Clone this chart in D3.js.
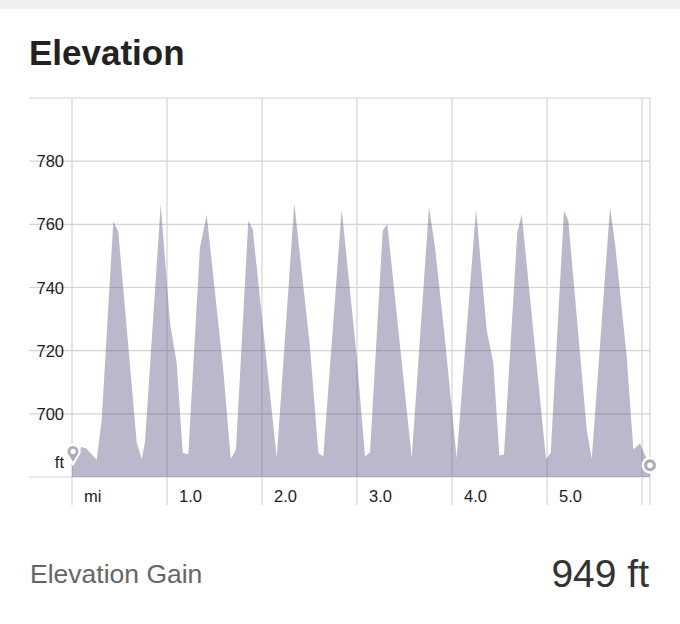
<!DOCTYPE html>
<html>
<head>
<meta charset="utf-8">
<script src="https://cdn.jsdelivr.net/npm/d3@7"></script>
<style>
  html, body { margin: 0; padding: 0; background: #fff; }
  svg { display: block; font-family: "Liberation Sans", Arial, Helvetica, sans-serif; }
</style>
</head>
<body>
<svg id="chart" width="680" height="624"></svg>
<script>
// ---- data ----
const title = "Elevation";
const distanceMi = [0.000, 0.100, 0.150, 0.260, 0.313, 0.435, 0.487, 0.681, 0.734, 0.768, 0.934, 1.032, 1.102, 1.165, 1.224, 1.347, 1.418, 1.589, 1.671, 1.726, 1.856, 1.902, 2.155, 2.340, 2.505, 2.593, 2.645, 2.839, 2.997, 3.084, 3.137, 3.271, 3.319, 3.576, 3.758, 3.821, 3.916, 4.049, 4.253, 4.365, 4.435, 4.498, 4.547, 4.687, 4.734, 4.989, 5.039, 5.179, 5.224, 5.418, 5.471, 5.663, 5.716, 5.839, 5.909, 5.979, 6.021, 6.084];
const elevationFt = [684.6, 689.5, 689.0, 685.5, 698.1, 760.9, 757.7, 690.9, 685.7, 690.9, 766.4, 728.7, 716.1, 687.7, 687.1, 752.7, 763.0, 714.9, 685.7, 688.7, 761.1, 758.5, 686.0, 766.6, 721.2, 687.6, 686.5, 764.8, 718.0, 686.5, 687.8, 758.0, 760.1, 686.0, 765.5, 752.7, 726.5, 686.0, 764.8, 726.5, 716.1, 686.8, 687.1, 757.4, 763.2, 685.7, 687.6, 764.3, 761.1, 695.0, 685.7, 765.3, 753.9, 718.0, 688.7, 690.6, 687.7, 683.7];
const yTicks = [680, 700, 720, 740, 760, 780, 800];
const yTickLabels = ["ft", "700", "720", "740", "760", "780", ""];
const xTicks = [0, 1, 2, 3, 4, 5, 6, 6.084];
const xTickLabels = ["mi", "1.0", "2.0", "3.0", "4.0", "5.0", "", ""];
const gainLabel = "Elevation Gain";
const gainValue = "949 ft";

// ---- layout ----
const svg = d3.select("#chart");
const x = d3.scaleLinear().domain([0, 6.084]).range([72, 650]);
const y = d3.scaleLinear().domain([680, 800]).range([477, 98]);
const data = distanceMi.map((d, i) => ({ d, e: elevationFt[i] }));

// top band
svg.append("rect").attr("x", 0).attr("y", 0).attr("width", 680).attr("height", 9).attr("fill", "#efeff4");

// title
svg.append("text").attr("x", 29).attr("y", 65).attr("font-size", 35).attr("font-weight", 700)
  .attr("fill", "#222").text(title);

// grid
const grid = svg.append("g").attr("stroke", "#d4d4d6").attr("stroke-width", 1.2).attr("fill", "none");
yTicks.forEach(t => {
  grid.append("line").attr("x1", 29).attr("x2", 650).attr("y1", y(t)).attr("y2", y(t));
});
xTicks.forEach(t => {
  grid.append("line").attr("x1", x(t)).attr("x2", x(t)).attr("y1", 98).attr("y2", 505);
});

// area
const area = d3.area().x(p => x(p.d)).y0(y(680)).y1(p => y(p.e)).curve(d3.curveLinear);
svg.append("path").datum(data).attr("d", area).attr("fill", "rgba(78,72,118,0.39)");

// y labels
yTicks.forEach((t, i) => {
  if (!yTickLabels[i]) return;
  const isUnit = yTickLabels[i] === "ft";
  svg.append("text").attr("x", 64).attr("y", isUnit ? 468 : y(t) + 6)
    .attr("text-anchor", "end").attr("font-size", 16.5).attr("fill", "#1c1c1e").text(yTickLabels[i]);
});
// x labels
xTicks.forEach((t, i) => {
  if (!xTickLabels[i]) return;
  svg.append("text").attr("x", x(t) + 12).attr("y", 502)
    .attr("font-size", 16.5).attr("fill", "#1c1c1e").text(xTickLabels[i]);
});

// start pin marker
const s = data[0];
const sx = x(s.d) + 1, sy = y(s.e) + 1.5;
const cy = sy - 12.5, r = 6.6;
const pin = `M${sx},${sy} L${sx - 4.6},${cy + 4.7} A${r},${r} 0 1 1 ${sx + 4.6},${cy + 4.7} Z`;
svg.append("path").attr("d", pin).attr("fill", "#aeabbe").attr("stroke", "#fff").attr("stroke-width", 2.2);
svg.append("circle").attr("cx", sx).attr("cy", cy).attr("r", 2.6).attr("fill", "#fff");

// end marker
const e = data[data.length - 1];
svg.append("circle").attr("cx", x(e.d)).attr("cy", y(e.e)).attr("r", 7.2).attr("fill", "#aeabbe")
  .attr("stroke", "#fff").attr("stroke-width", 2.4);
svg.append("circle").attr("cx", x(e.d)).attr("cy", y(e.e)).attr("r", 2.8).attr("fill", "#fff");

// footer
svg.append("text").attr("x", 30).attr("y", 583).attr("font-size", 26.5).attr("fill", "#666")
  .text(gainLabel);
svg.append("text").attr("x", 649).attr("y", 587).attr("text-anchor", "end").attr("font-size", 39)
  .attr("fill", "#333").text(gainValue);
</script>
</body>
</html>
